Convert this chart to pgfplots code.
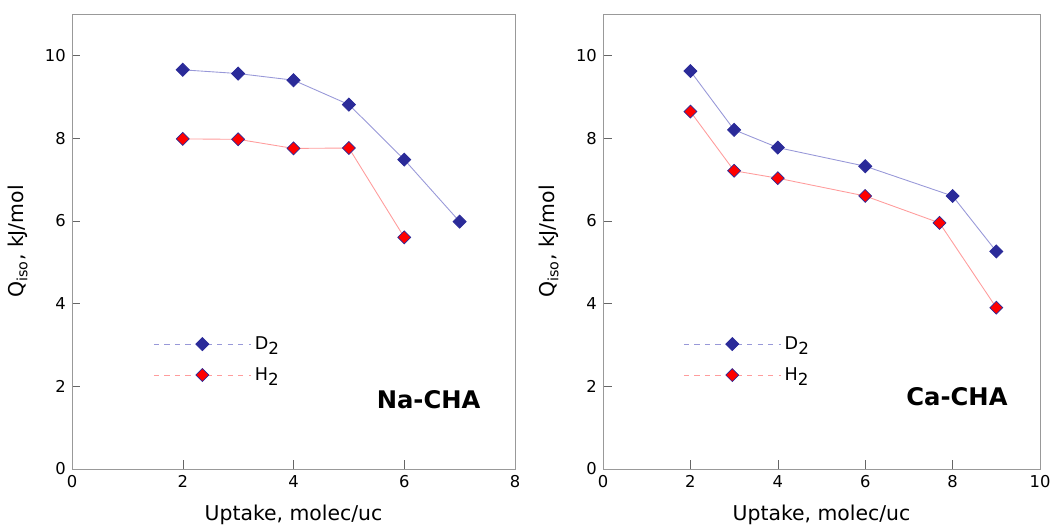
\documentclass[border=0pt]{standalone}
\usepackage{pgfplots}
\pgfplotsset{compat=1.18}
\usepackage{fontspec}
\setmainfont{DejaVu Sans}

\definecolor{dtwo}{HTML}{2B2B99}
\definecolor{dline}{HTML}{9898D8}
\definecolor{hline}{HTML}{FF9C9C}

\newcommand{\sub}[1]{\raisebox{-0.55ex}{\fontsize{9.5}{10}\selectfont #1}}

\pgfplotsset{
  qiso/.style={
    scale only axis,
    height=9.1cm,
    ymin=0, ymax=11,
    ytick={0,2,4,6,8,10},
    axis line style={draw=black!40},
    tick style={black!60, major tick length=0.17cm},
    tick align=inside,
    xtick pos=bottom, ytick pos=left,
    ticklabel style={font=\fontsize{9.3}{11}\selectfont},
    /pgf/number format/assume math mode=true,
    label style={font=\fontsize{11.6}{14}\selectfont},
    xlabel={Uptake, molec/uc},
    ylabel={Q\textsubscript{iso}, kJ/mol},
    xlabel style={at={(axis description cs:0.5,0)}, yshift=-0.92cm, anchor=center},
    ylabel style={at={(axis description cs:0,0.5)}, yshift=1.08cm, anchor=center},
    legend style={draw=none, fill=none, at={(rel axis cs:0.183,0.30)}, anchor=north west,
      font=\fontsize{10}{12}\selectfont, row sep=0.17cm, inner sep=0pt,
      /tikz/every even column/.append style={column sep=0.05cm}},
    legend cell align=left,
    legend image code/.code={
      \draw[dashed,#1] (0cm,0cm) -- (1.94cm,0cm);
      \draw[#1,mark repeat=1,only marks] plot coordinates {(0.97cm,0cm)};
    },
  },
  dser/.style={color=dline, line width=0.5pt, mark=square*,
    mark options={rotate=45, solid, fill=dtwo, draw=dtwo, mark size=2.6pt}},
  hser/.style={color=hline, line width=0.5pt, mark=square*,
    mark options={rotate=45, solid, fill=red, draw=dtwo, line width=0.4pt, mark size=2.6pt}},
}

\begin{document}
\begin{tikzpicture}
\useasboundingbox (0,0) rectangle (21.04cm,10.54cm);

% Na-CHA
\begin{axis}[qiso, at={(1.44cm,1.16cm)}, anchor=south west, width=8.86cm,
  xmin=0, xmax=8, xtick={0,2,4,6,8}]
\addplot[dser] coordinates {(2,9.65) (3,9.56) (4,9.40) (5,8.81) (6,7.48) (7,5.98)};
\addplot[hser] coordinates {(2,7.98) (3,7.97) (4,7.75) (5,7.76) (6,5.60)};
\legend{D\sub{2}, H\sub{2}}
\node[font=\fontsize{13.8}{16}\selectfont\bfseries] at (rel axis cs:0.805,0.152) {Na-CHA};
\end{axis}

% Ca-CHA
\begin{axis}[qiso, at={(12.06cm,1.16cm)}, anchor=south west, width=8.74cm,
  xmin=0, xmax=10, xtick={0,2,4,6,8,10}]
\addplot[dser] coordinates {(2,9.62) (3,8.20) (4,7.77) (6,7.32) (8,6.60) (9,5.26)};
\addplot[hser] coordinates {(2,8.64) (3,7.21) (4,7.03) (6,6.60) (7.7,5.95) (9,3.90)};
\legend{D\sub{2}, H\sub{2}}
\node[font=\fontsize{13.8}{16}\selectfont\bfseries] at (rel axis cs:0.81,0.158) {Ca-CHA};
\end{axis}
\end{tikzpicture}
\end{document}
